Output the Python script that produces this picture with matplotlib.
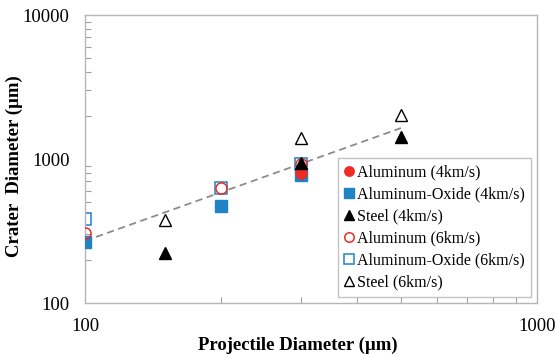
import matplotlib
matplotlib.use("Agg")
import matplotlib.pyplot as plt
from matplotlib.ticker import LogLocator, NullFormatter, FixedLocator, FixedFormatter

plt.rcParams['font.family'] = ['Liberation Serif', 'DejaVu Serif']

# Projectile diameter (um) and crater diameter (um) per material / velocity
al4_x = [300]
al4_y = [800]
alox4_x = [100, 200, 300]
alox4_y = [265, 472, 780]
steel4_x = [150, 300, 500]
steel4_y = [222, 940, 1420]
al6_x = [100, 200, 300]
al6_y = [306, 630, 930]
alox6_x = [100, 200, 300]
alox6_y = [383, 630, 923]
steel6_x = [150, 300, 500]
steel6_y = [377, 1400, 2020]

# Power-law trend line endpoints
trend_x = [100, 500]
trend_y = [270, 1640]

x_ticks = [100, 1000]
x_labels = ["100", "1000"]
y_ticks = [100, 1000, 10000]
y_labels = ["100", "1000", "10000"]

red = "#ee2a24"
blue = "#1f83c6"

W, H = 556, 357
fig = plt.figure(figsize=(W / 100, H / 100), dpi=100)
ax = fig.add_axes([85 / W, 1 - 303 / H, (537 - 85) / W, (303 - 15) / H])

ax.plot(trend_x, trend_y, linestyle=(0, (4, 2.5)), color="#8c8c8c", lw=1.3, zorder=1)

ms = 8
ax.plot(alox6_x, alox6_y, 's', mfc='white', mec=blue, mew=1.1, ms=ms, label='Aluminum-Oxide (6km/s)', zorder=2)
ax.plot(alox4_x, alox4_y, 's', color=blue, ms=ms, label='Aluminum-Oxide (4km/s)', zorder=3)
ax.plot(al4_x, al4_y, 'o', color=red, ms=ms, label='Aluminum (4km/s)', zorder=3)
ax.plot(al6_x, al6_y, 'o', mfc='none', mec=red, mew=1.1, ms=ms, label='Aluminum (6km/s)', zorder=4)
ax.plot(steel4_x, steel4_y, '^', color='black', ms=ms, label='Steel (4km/s)', zorder=5)
ax.plot(steel6_x, steel6_y, '^', mfc='white', mec='black', mew=1.0, ms=ms + 1, label='Steel (6km/s)', zorder=5)

ax.set_xscale('log')
ax.set_yscale('log')
ax.set_xlim(100, 1000)
ax.set_ylim(100, 10000)

ax.xaxis.set_major_locator(FixedLocator(x_ticks))
ax.xaxis.set_major_formatter(FixedFormatter(x_labels))
ax.yaxis.set_major_locator(FixedLocator(y_ticks))
ax.yaxis.set_major_formatter(FixedFormatter(y_labels))
ax.xaxis.set_minor_locator(LogLocator(base=10, subs=range(2, 10)))
ax.yaxis.set_minor_locator(LogLocator(base=10, subs=range(2, 10)))
ax.xaxis.set_minor_formatter(NullFormatter())
ax.yaxis.set_minor_formatter(NullFormatter())

ax.tick_params(which='both', direction='in', color='#a0a0a0', labelsize=13.5)
ax.tick_params(axis='y', which='major', length=0, pad=11)
ax.tick_params(axis='x', which='major', length=0, pad=11)
ax.tick_params(which='minor', length=4, width=0.8)

for s in ax.spines.values():
    s.set_color('#b5b5b5')
    s.set_linewidth(1.0)

ax.set_xlabel('Projectile Diameter (µm)', fontsize=13.5, fontweight='bold')
ax.set_ylabel('Crater  Diameter (µm)', fontsize=13.5, fontweight='bold')
ax.xaxis.set_label_coords((298 - 85) / 452, (303 - 345) / 288)
ax.yaxis.set_label_coords((14 - 85) / 452, (303 - 166) / 288)
ax.xaxis.label.set_va('center')
ax.yaxis.label.set_va('center')

handles, labels = ax.get_legend_handles_labels()
order = ['Aluminum (4km/s)', 'Aluminum-Oxide (4km/s)', 'Steel (4km/s)',
         'Aluminum (6km/s)', 'Aluminum-Oxide (6km/s)', 'Steel (6km/s)']
hmap = dict(zip(labels, handles))
leg = ax.legend([hmap[k] for k in order], order, loc='lower right',
                bbox_to_anchor=(531 / W, 1 - 297 / H), bbox_transform=fig.transFigure,
                borderaxespad=0, fontsize=11.5, frameon=True, fancybox=False,
                edgecolor='#b5b5b5', handlelength=0.6, handletextpad=0.2,
                labelspacing=0.38, borderpad=0.4, markerscale=0.85)
leg.get_frame().set_linewidth(1.0)

fig.savefig('out.png', dpi=100)
